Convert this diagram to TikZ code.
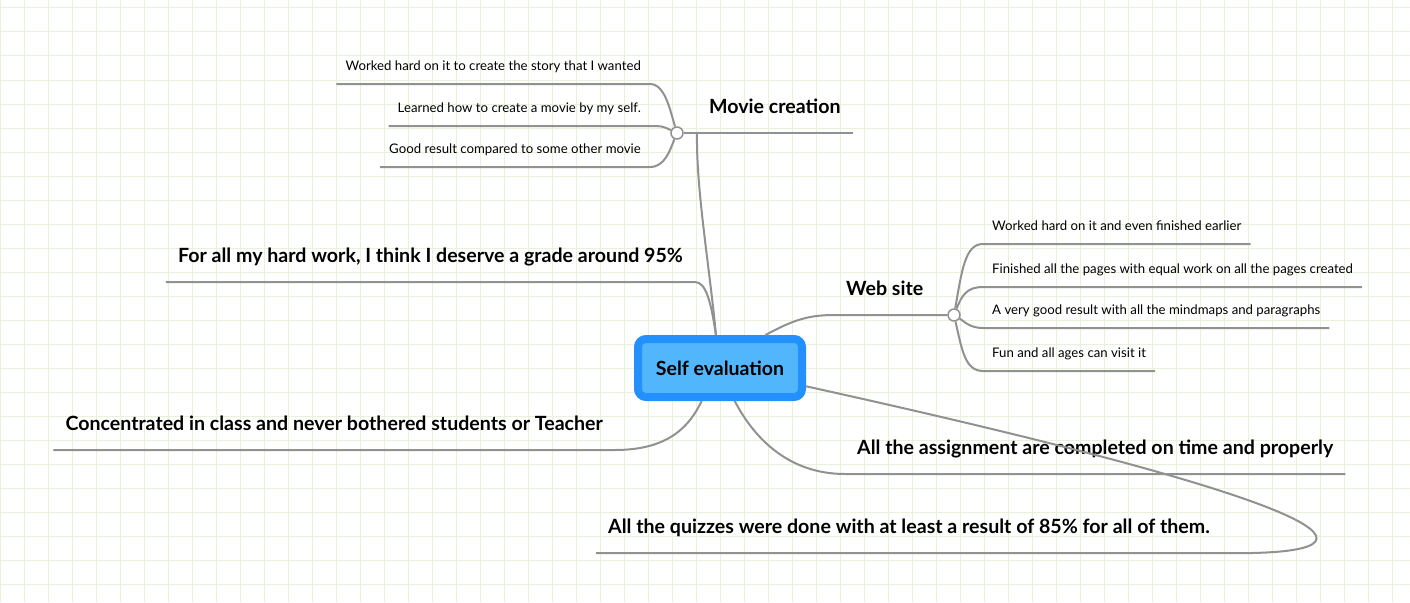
\documentclass[tikz,border=0pt]{standalone}
\usepackage{fontspec}
\setmainfont{Lato}
\definecolor{gridgreen}{HTML}{E8F1DC}
\definecolor{linegray}{HTML}{919191}
\definecolor{rootblue}{HTML}{2290FD}
\definecolor{rootfill}{HTML}{52B6FC}
\begin{document}
\begin{tikzpicture}[x=1pt, y=-1pt,
    gridline/.style={draw=gridgreen, line width=1pt},
    branch/.style={draw=linegray, line width=2pt},
    root/.style={draw=rootblue, fill=rootfill, line width=8pt, rounded corners=8pt,
        minimum width=164pt, minimum height=58pt, font=\bfseries\fontsize{19.5}{24}\selectfont},
    topic/.style={font=\bfseries\fontsize{19.6}{24}\selectfont, inner xsep=12pt, inner ysep=0pt,
        text height=14pt, text depth=19.5pt},
    subtopic/.style={font=\fontsize{13.2}{16}\selectfont, inner xsep=9pt, inner ysep=0pt,
        text height=10pt, text depth=13pt},
    knot/.style={circle, draw=linegray, fill=white, line width=1.5pt, minimum size=12pt, inner sep=0pt}]
    \useasboundingbox (0,0) rectangle (1410,602);
    \fill[white] (0,0) rectangle (1410,602);
    \foreach \x in {0,24,...,1404}
        \draw[gridline] (\x,0) -- (\x,602);
    \foreach \y in {8,32,...,584}
        \draw[gridline] (0,\y) -- (1410,\y);

    \node[root] (self) at (720,368) {Self evaluation};

    % movie creation
    \node[topic, anchor=south west] (movie) at (697,133) {Movie creation};
    \node[knot] (mvknot) at (677,133) {};
    \node[subtopic, anchor=south east] (mv1) at (650,84) {Worked hard on it to create the story that I wanted};
    \node[subtopic, anchor=south east] (mv2) at (650,126) {Learned how to create a movie by my self.};
    \node[subtopic, anchor=south east] (mv3) at (650,167) {Good result compared to some other movie};

    % left side
    \node[topic, anchor=south east] (grade) at (695,282) {For all my hard work, I think I deserve a grade around 95\%};
    \node[topic, anchor=south east] (focus) at (615,450) {Concentrated in class and never bothered students or Teacher};

    % web site
    \node[topic, anchor=south west] (web) at (834,315) {Web site};
    \node[knot] (webknot) at (954,315) {};
    \node[subtopic, anchor=south west] (web1) at (983,244) {Worked hard on it and even finished earlier};
    \node[subtopic, anchor=south west] (web2) at (983,287) {Finished all the pages with equal work on all the pages created};
    \node[subtopic, anchor=south west] (web3) at (983,328) {A very good result with all the mindmaps and paragraphs};
    \node[subtopic, anchor=south west] (web4) at (983,371) {Fun and all ages can visit it};

    % bottom
    \node[topic, anchor=south west] (tasks) at (845,474) {All the assignment are completed on time and properly};
    \node[topic, anchor=south west] (quiz) at (596,553) {All the quizzes were done with at least a result of 85\% for all of them.};

    \draw[branch] (mv1.south west) -- (mv1.south east) .. controls (665,84) and (670,110) .. (mvknot);
    \draw[branch] (mv2.south west) -- (mv2.south east) .. controls (662,126) .. (mvknot);
    \draw[branch] (mv3.south west) -- (mv3.south east) .. controls (665,167) and (670,150) .. (mvknot);
    \draw[branch] (mvknot) -- (movie.south east);
    \draw[branch] (self.97) .. controls (710,270) and (696,190) .. (movie.south west);
    \draw[branch] (grade.south west) -- (grade.south east) .. controls (706,282) and (711,302) .. (self.97);
    \draw[branch] (focus.south west) -- (focus.south east) .. controls (670,450) and (690,425) .. (self.-119);
    \draw[branch] (self.36) .. controls (790,322) and (805,315) .. (web.south west) -- (webknot);
    \draw[branch] (webknot) .. controls (962,270) and (965,244) .. (web1.south west) -- (web1.south east);
    \draw[branch] (webknot) .. controls (962,295) and (967,287) .. (web2.south west) -- (web2.south east);
    \draw[branch] (webknot) .. controls (965,322) and (970,328) .. (web3.south west) -- (web3.south east);
    \draw[branch] (webknot) .. controls (962,350) and (965,371) .. (web4.south west) -- (web4.south east);
    \draw[branch] (self.-66) .. controls (755,440) and (790,474) .. (tasks.south west) -- (tasks.south east);
    \draw[branch] (self.-12) .. controls (1390,515) and (1385,556) .. (quiz.south east) -- (quiz.south west);
\end{tikzpicture}
\end{document}
